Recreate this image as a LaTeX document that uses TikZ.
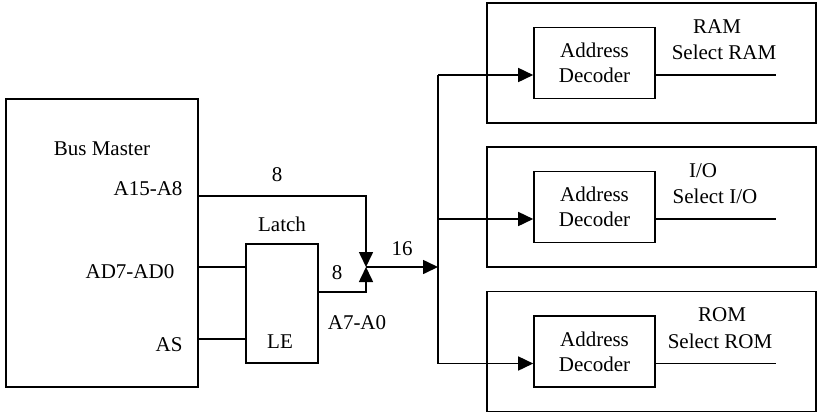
\documentclass[tikz,border=0pt]{standalone}
\usepackage{fontspec}
\setmainfont{Liberation Serif}
\usetikzlibrary{arrows.meta}

\begin{document}
\begin{tikzpicture}[
    x=1pt, y=-1pt,
    box/.style={draw, line width=1.6pt, inner sep=0pt},
    wire/.style={line width=1.6pt},
    arrow/.style={wire, -{Triangle[length=15pt,width=14pt]}},
    every node/.style={font=\fontsize{21}{25}\selectfont}
]
\useasboundingbox (0,0) rectangle (821,413);

% bus master and latch
\node[box, line width=2.6pt, minimum width=192pt, minimum height=288pt] (master) at (102,243) {};
\node[box, minimum width=72pt, minimum height=119pt] (latch) at (282,303.5) {};

\node (mastername) at (102,149) {Bus Master};
\node[anchor=east] (a15lbl) at (186,189) {A15-A8};
\node (ad7lbl) at (130,272) {AD7-AD0};
\node[anchor=east] (aslbl) at (186,345) {AS};
\node (latchname) at (282,224) {Latch};
\node (lelbl) at (280,342) {LE};

% memory and i/o blocks
\foreach \dev/\y in {ram/63, io/207, rom/351.5} {
    \node[box, minimum width=329pt, minimum height=120pt] (\dev) at (651.5,\y) {};
    \node[box, minimum width=121pt, minimum height=71pt, align=center] (\dev-dec)
         at (594.5,\y) {Address\\Decoder};
    \coordinate (tap\dev) at (438,{\y+12});
}
\node (ramname) at (717,27) {RAM};
\node (ramsel) at (724,52) {Select RAM};
\node (ioname) at (703,171) {I/O};
\node (iosel) at (715,196) {Select I/O};
\node (romname) at (722,315) {ROM};
\node (romsel) at (720,341) {Select ROM};

% address lines
\coordinate (hi) at (366,196);
\coordinate (lo) at (366,292);
\coordinate (join) at (366,267);
\coordinate (bus) at (438,267);
\coordinate (lepin) at (246,339);

\draw[arrow] (master.east |- hi) -- (hi) -- (join);
\draw[wire] (master.east |- join) -- (latch.west |- join);
\draw[wire] (master.east |- lepin) -- (latch.west |- lepin);
\draw[arrow] (latch.east |- lo) -- (lo) -- (join);
\draw[arrow] (join) -- (bus);

\node (n8a) at (277,175) {8};
\node (n8b) at (337,273) {8};
\node (a7lbl) at (357,323) {A7-A0};
\node (n16) at (402,249) {16};

\draw[wire] (tapram) -- (taprom);
\foreach \dev in {ram,io,rom} {
    \draw[arrow] (tap\dev) -- (tap\dev -| \dev-dec.west);
    \draw[wire] (tap\dev -| \dev-dec.east) -- ++(120,0);
}
\end{tikzpicture}
\end{document}
